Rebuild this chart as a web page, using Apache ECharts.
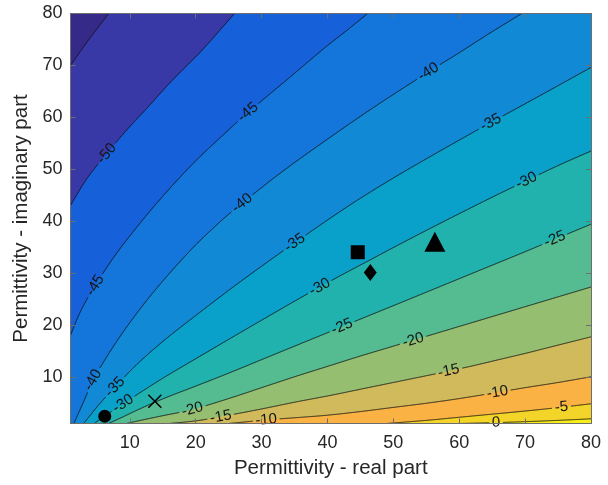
<!DOCTYPE html>
<html><head><meta charset="utf-8">
<script src="https://cdn.jsdelivr.net/npm/echarts@6/dist/echarts.min.js"></script>
<style>html,body{margin:0;padding:0;background:#fff}#c{width:608px;height:485px}</style>
</head><body><div id="c"></div>
<script>
// ---------- data ----------
const xTicks = [10, 20, 30, 40, 50, 60, 70, 80];
const yTicks = [10, 20, 30, 40, 50, 60, 70, 80];
const levels = [-55, -50, -45, -40, -35, -30, -25, -20, -15, -10, -5, 0];

const line_m55 = [[1,70],[3.8,75],[6.8,80]];
const line_m50 = [[1,43],[3.5,48.2],[6.5,53],[9.5,57.5],[12.7,61.9],[16.5,67.2],[20.5,72.3],[23.2,76.1],[25.9,80]];
const line_m45 = [[1,18],[2.6,22.8],[4.75,27.6],[8,33.8],[12.2,40.6],[16,46.2],[20,51.6],[24,56.4],[27.9,60.9],[34,67.4],[39.6,73.4],[43,76.8],[46.1,80]];
const line_m40 = [[1.5,1],[2.5,3.8],[3.4,6.4],[4.4,9.4],[8,16.8],[12,23.8],[16,29.9],[20,35.4],[24,40.2],[27.1,43.5],[33,49.4],[39.8,55.6],[47,61.9],[55.4,68.8],[60.2,72.6],[64.5,76.1],[69.5,80]];
const line_m35 = [[3,1],[4.2,2.9],[5.5,4.9],[7.8,8.1],[11,12.3],[15,16.8],[19.9,21.7],[26,27.6],[32.2,33.3],[34.8,35.6],[40,40.2],[45,44.4],[50,48.3],[55,52],[60,55.6],[64.8,59],[70,62.6],[75,66.1],[80,69.6]];
const line_m30 = [[4.6,1],[6.5,2.7],[9.1,4.9],[12,7.3],[15.5,10.1],[19.9,13.4],[25,17.2],[30,20.9],[36.3,25.5],[41.4,29.1],[46,32.2],[50,34.9],[55,38.2],[59.8,41.3],[65,44.6],[70.2,47.8],[75,50.7],[80,53.5]];
const line_m25 = [[6.8,1],[9,2.3],[11.5,3.8],[13.8,5.1],[16.5,6.5],[19.8,8.1],[25,10.7],[30,13.3],[35,15.9],[40.4,18.7],[44.2,20.7],[50,23.7],[55,26.3],[60,28.9],[65,31.5],[70,34.1],[74.5,36.5],[80,39.4]];
const line_m20 = [[9.5,1],[12,1.7],[15,2.5],[19.5,3.7],[25,5.8],[30,7.9],[35,10],[40,12],[45,14],[50,15.9],[55,17.8],[60,19.7],[65,21.6],[70,23.5],[75,25.4],[80,27.3]];
const line_m15 = [[16,1],[20,1.5],[23.8,2.3],[30,3.8],[35,5.1],[40.4,6.4],[45,7.6],[50,8.9],[55,10.2],[58.4,11.1],[62,12.1],[66,13.3],[70,14.5],[75,16.1],[80,17.7]];
const line_m10 = [[25,1],[27.5,1.3],[30.7,1.7],[35,2.1],[40,2.6],[45,3.3],[50,4.1],[55,4.9],[60,5.8],[65.8,7],[70,7.9],[75,8.9],[80,10]];
const line_m5  = [[49,1],[55,1.6],[60,2.2],[65,2.8],[70,3.4],[75.3,4.1],[80,4.8]];
const line_0   = [[60,1],[65,1.15],[70,1.35],[75,1.6],[80,1.9]];
const contourLines = [line_m55, line_m50, line_m45, line_m40, line_m35, line_m30, line_m25, line_m20, line_m15, line_m10, line_m5, line_0];

const bandColors = ['#352a87','#3838a6','#1660d9','#1476db','#1189d5','#09a0c9','#22b2ad','#55bb90','#95be70','#d1ba5b','#f9b243','#f3d428','#f6ee1a'];

const labelLevel = [-50,-45,-45,-40,-40,-40,-35,-35,-35,-30,-30,-30,-25,-25,-20,-20,-15,-15,-10,-10,-5,0];
const labelX     = [6.5,4.75,27.9,4.4,27.1,55.35,7.8,34.8,64.8,9.1,38.8,70.2,42.1,74.5,19.5,53.1,23.8,58.4,30.7,65.8,75.5,65.6];
const labelY     = [53.0,27.6,61.0,9.4,43.4,68.7,8.0,36.3,59.0,4.6,27.3,47.9,19.9,36.6,3.6,16.6,2.3,11.3,1.7,7.1,4.0,1.0];

const markerX = [6.2, 13.8, 44.6, 46.5, 56.3];
const markerY = [2.4, 5.3, 34.0, 30.1, 36.0];
const markerShape = ['circle', 'cross', 'square', 'diamond', 'triangle'];

// ---------- rendering helpers ----------
const FONT = '"Liberation Sans", Arial, Helvetica, sans-serif';
const LABEL_FONT_SIZE = 15;
const measureCtx = document.createElement('canvas').getContext('2d');
function textWidth(t){ measureCtx.font = LABEL_FONT_SIZE + 'px ' + FONT; return measureCtx.measureText(t).width; }

function catmull(pts, seg){
  if (pts.length < 3) return pts.slice();
  const out = [];
  for (let i = 0; i < pts.length - 1; i++){
    const p0 = pts[i-1] || pts[i], p1 = pts[i], p2 = pts[i+1], p3 = pts[i+2] || pts[i+1];
    for (let t = 0; t < seg; t++){
      const s = t/seg, s2 = s*s, s3 = s2*s;
      out.push([0,1].map(k => 0.5*((2*p1[k]) + (-p0[k]+p2[k])*s + (2*p0[k]-5*p1[k]+4*p2[k]-p3[k])*s2 + (-p0[k]+3*p1[k]-3*p2[k]+p3[k])*s3)));
    }
  }
  out.push(pts[pts.length-1]);
  return out;
}
function densify(pts, step){
  const out = [pts[0]];
  for (let i = 1; i < pts.length; i++){
    const a = pts[i-1], b = pts[i];
    const d = Math.hypot(b[0]-a[0], b[1]-a[1]);
    const n = Math.max(1, Math.ceil(d/step));
    for (let k = 1; k <= n; k++) out.push([a[0]+(b[0]-a[0])*k/n, a[1]+(b[1]-a[1])*k/n]);
  }
  return out;
}
function fmtLevel(v){ return v < 0 ? '-' + Math.abs(v) : String(v); }

const chart = echarts.init(document.getElementById('c'), null, {renderer:'canvas'});

function renderFill(params, api){
  const i = params.dataIndex;
  const color = bandColors[i];
  if (i === 0){
    const pts = [[1,1],[1,80],[80,80],[80,1]].map(p => api.coord(p));
    return {type:'polygon', shape:{points:pts}, style:{fill:color, stroke:null}};
  }
  const line = contourLines[i-1];
  const pts = catmull(line.map(p => api.coord(p)), 10);
  const start = line[0], end = line[line.length-1];
  if (end[1] >= 80 && end[0] < 80) pts.push(api.coord([80,80]));
  pts.push(api.coord([80,1]));
  if (start[0] <= 1) pts.push(api.coord([1,1]));
  return {type:'polygon', shape:{points:pts}, style:{fill:color, stroke:null}};
}

function renderLine(params, api){
  const i = params.dataIndex;
  const lev = levels[i];
  const line = contourLines[i];
  const dense = densify(catmull(line.map(p => api.coord(p)), 10), 0.5);
  const acc = [0];
  for (let k = 1; k < dense.length; k++) acc.push(acc[k-1] + Math.hypot(dense[k][0]-dense[k-1][0], dense[k][1]-dense[k-1][1]));
  const gaps = [], texts = [];
  for (let j = 0; j < labelLevel.length; j++){
    if (labelLevel[j] !== lev) continue;
    const L = api.coord([labelX[j], labelY[j]]);
    let best = 0, bd = Infinity;
    for (let k = 0; k < dense.length; k++){
      const d = Math.hypot(dense[k][0]-L[0], dense[k][1]-L[1]);
      if (d < bd){ bd = d; best = k; }
    }
    const a = dense[Math.max(0, best-12)], b = dense[Math.min(dense.length-1, best+12)];
    let ang = Math.atan2(-(b[1]-a[1]), b[0]-a[0]);
    if (ang > Math.PI/2) ang -= Math.PI; if (ang < -Math.PI/2) ang += Math.PI;
    const txt = fmtLevel(lev);
    const half = textWidth(txt)/2 + 2.5;
    gaps.push([acc[best]-half, acc[best]+half]);
    texts.push({type:'text', x:dense[best][0], y:dense[best][1], rotation:ang, z2:5,
      style:{text:txt, fill:'#151515', font: LABEL_FONT_SIZE + 'px ' + FONT, align:'center', verticalAlign:'middle'}});
  }
  const pieces = []; let cur = [];
  for (let k = 0; k < dense.length; k++){
    const inGap = gaps.some(g => acc[k] > g[0] && acc[k] < g[1]);
    if (inGap){ if (cur.length > 1) pieces.push(cur); cur = []; }
    else cur.push(dense[k]);
  }
  if (cur.length > 1) pieces.push(cur);
  const children = pieces.map(p => ({type:'polyline', shape:{points:p}, style:{stroke:'#101010', lineWidth:0.9, fill:null}}));
  return {type:'group', children: children.concat(texts)};
}

const markerStyles = {
  circle:   {symbol:'circle', symbolSize:13, itemStyle:{color:'#000', opacity:1}},
  cross:    {symbol:'path://M0,0L10,10M10,0L0,10', symbolSize:13, itemStyle:{color:'rgba(0,0,0,0)', borderColor:'#000', borderWidth:1.5, opacity:1}},
  square:   {symbol:'rect', symbolSize:14, itemStyle:{color:'#000', opacity:1}},
  diamond:  {symbol:'diamond', symbolSize:[13,17], itemStyle:{color:'#000', opacity:1}},
  triangle: {symbol:'triangle', symbolSize:[21,20], itemStyle:{color:'#000', opacity:1}}
};
const markerData = markerX.map((x, k) => Object.assign({value:[x, markerY[k]]}, markerStyles[markerShape[k]]));

const axisColor = '#6e6e6e';
const textColor = '#262626';
function mkAxis(pos, isX, showLabels, name){
  const ticks = isX ? xTicks : yTicks;
  return {
    type:'value', min:1, max:80, position:pos, z:10,
    axisLine:{show:true, onZero:false, lineStyle:{color:axisColor, width:1}},
    axisTick:{show:true, inside:true, length:5, customValues:ticks, lineStyle:{color:axisColor, width:1}},
    axisLabel:{show:showLabels, customValues:ticks, fontSize:18, color:textColor, fontFamily:FONT, margin: isX ? 11 : 8},
    splitLine:{show:false},
    name: name || '', nameLocation:'middle', nameGap: isX ? 33 : 37,
    nameTextStyle:{fontSize:20.5, color:textColor, fontFamily:FONT}
  };
}

chart.setOption({
  animation:false,
  backgroundColor:'#ffffff',
  grid:{left:70.5, right:17, top:13.5, bottom:61.5, containLabel:false},
  xAxis:[mkAxis('bottom', true, true, 'Permittivity - real part'), mkAxis('top', true, false)],
  yAxis:[mkAxis('left', false, true, 'Permittivity - imaginary part'), mkAxis('right', false, false)],
  series:[
    {type:'custom', coordinateSystem:'cartesian2d', clip:true, silent:true, z:1,
     data: bandColors.map(() => [40, 40]), renderItem: renderFill},
    {type:'custom', coordinateSystem:'cartesian2d', clip:false, silent:true, z:3,
     data: levels.map(() => [40, 40]), renderItem: renderLine},
    {type:'scatter', z:5, silent:true, data: markerData}
  ]
});
</script></body></html>
